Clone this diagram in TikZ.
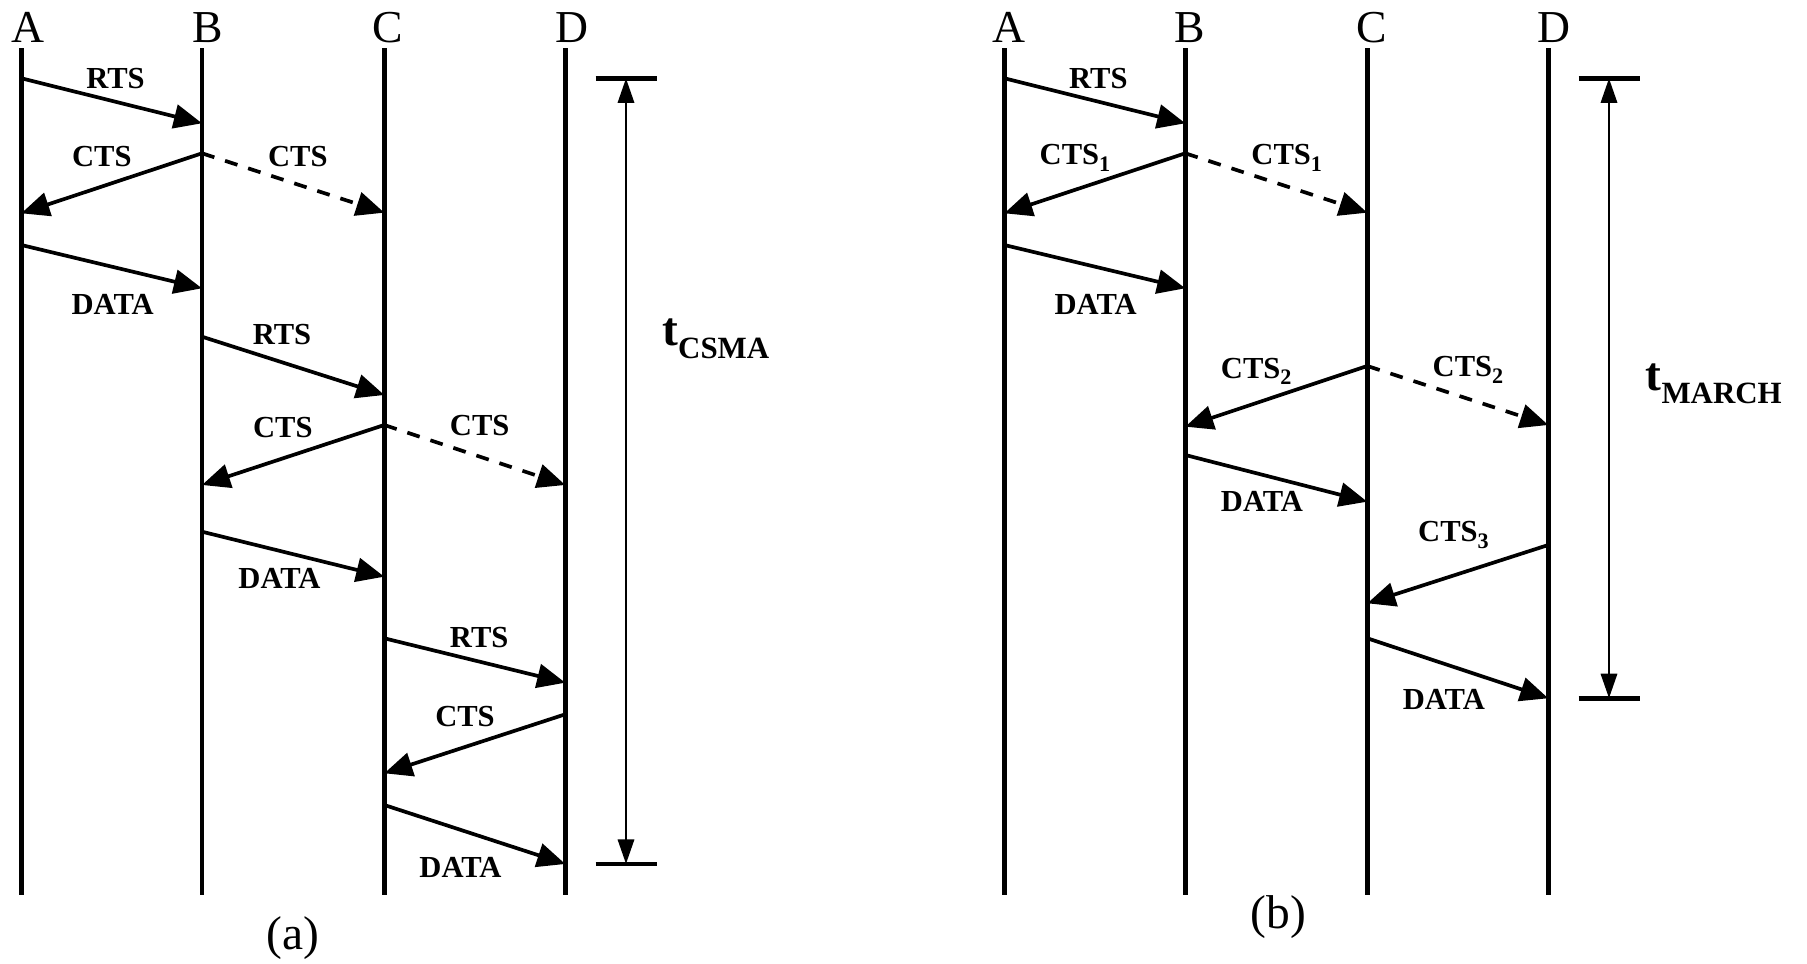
\documentclass[tikz,border=0pt]{standalone}
\usepackage{fontspec}
\setmainfont{Liberation Serif}
\usepackage{tikz}
\usetikzlibrary{arrows.meta}

\newcommand{\ctsno}[1]{CTS\raisebox{-1.9pt}{\fontsize{6.3}{7}\selectfont #1}}
\newcommand{\tspan}[1]{t\raisebox{-3.5pt}{\fontsize{8.8}{10}\selectfont #1}}

\begin{document}
\begin{tikzpicture}[x=0.1mm,y=-0.1mm,
  life/.style={line width=1.35pt},
  msg/.style={line width=1.05pt,-{Triangle[length=8pt,width=6.8pt]}},
  bmsg/.style={msg,dash pattern=on 3.7pt off 3.2pt},
  span/.style={line width=0.8pt,{Triangle[length=7pt,width=4.6pt]}-{Triangle[length=7pt,width=4.6pt]}},
  bar/.style={line width=1.35pt},
  head/.style={font=\fontsize{13}{15}\selectfont,inner sep=0pt,anchor=base},
  lbl/.style={font=\fontsize{8.7}{10}\selectfont\bfseries,inner sep=0pt,anchor=base},
  tlbl/.style={font=\fontsize{13.5}{15}\selectfont\bfseries,inner sep=0pt,anchor=base west}]

  \useasboundingbox (0,0) rectangle (1807,964);

  % --- (a) CSMA ---
  \node[head] (aA) at (27.5,42.7) {A}; \node[head] (aB) at (207.3,42.7) {B};
    \node[head] (aC) at (388,42.7) {C}; \node[head] (aD) at (571.7,42.7) {D};
  \draw[life] (21.3,48.3) -- (21.3,895);
  \draw[life] (202,48.3) -- (202,895);
  \draw[life] (384.3,48.3) -- (384.3,895);
  \draw[life] (565.3,48.3) -- (565.3,895);

  % message end points
  \coordinate (a1s) at (21.3,78.3);   \coordinate (a1e) at (202,123.3);
  \coordinate (a2s) at (202,153.3);   \coordinate (a2e) at (21.3,213.3);
  \coordinate (a3e) at (384.3,212.7);
  \coordinate (a4s) at (21.3,245);    \coordinate (a4e) at (202,288.3);
  \coordinate (a5s) at (202,336.7);   \coordinate (a5e) at (384.3,395);
  \coordinate (a6s) at (384.3,425);   \coordinate (a6e) at (202,485);
  \coordinate (a7e) at (565.3,485);
  \coordinate (a8s) at (202,531.7);   \coordinate (a8e) at (384.3,576.7);
  \coordinate (a9s) at (384.3,638.3); \coordinate (a9e) at (565.3,682.7);
  \coordinate (a10s) at (565.3,714.3); \coordinate (a10e) at (384.3,773.3);
  \coordinate (a11s) at (384.3,805);  \coordinate (a11e) at (565.3,864);

  \draw[msg] (a1s) -- (a1e);  \draw[msg] (a2s) -- (a2e);  \draw[bmsg] (a2s) -- (a3e);
  \draw[msg] (a4s) -- (a4e);  \draw[msg] (a5s) -- (a5e);  \draw[msg] (a6s) -- (a6e);
  \draw[bmsg] (a6s) -- (a7e); \draw[msg] (a8s) -- (a8e);  \draw[msg] (a9s) -- (a9e);
  \draw[msg] (a10s) -- (a10e); \draw[msg] (a11s) -- (a11e);

  \node[lbl] (aRts1) at (115.5,88.3) {RTS};
  \node[lbl] (aCts1) at (101.8,166.7) {CTS}; \node[lbl] (aCts1d) at (297.8,166.7) {CTS};
  \node[lbl] (aData1) at (112.7,315) {DATA};
  \node[lbl] (aRts2) at (282,345) {RTS};
  \node[lbl] (aCts2) at (282.8,437.7) {CTS}; \node[lbl] (aCts2d) at (479.7,435.7) {CTS};
  \node[lbl] (aData2) at (279.5,588.3) {DATA};
  \node[lbl] (aRts3) at (479.2,647.3) {RTS};
  \node[lbl] (aCts3) at (465,726.7) {CTS};
  \node[lbl] (aData3) at (460.5,877.7) {DATA};

  % time span
  \coordinate (aT) at (626,78.3); \coordinate (aTb) at (626,864);
  \draw[bar] ([xshift=-3.05mm]aT) -- ([xshift=3.05mm]aT);
  \draw[bar] ([xshift=-3.05mm]aTb) -- ([xshift=3.05mm]aTb);
  \draw[span] (aT) -- (aTb);
  \node[tlbl] (aTime) at (661.7,346) {\tspan{CSMA}};
  \node[head,anchor=center,font=\fontsize{13.5}{15}\selectfont] (aCap) at (293.3,938) {(a)};

  % --- (b) MARCH ---
  \node[head] (bA) at (1009.2,42.7) {A}; \node[head] (bB) at (1189.5,42.7) {B};
    \node[head] (bC) at (1371.7,42.7) {C}; \node[head] (bD) at (1554.2,42.7) {D};
  \draw[life] (1004.3,48.3) -- (1004.3,895);
  \draw[life] (1185.3,48.3) -- (1185.3,895);
  \draw[life] (1367.3,48.3) -- (1367.3,895);
  \draw[life] (1548.3,48.3) -- (1548.3,895);

  % message end points
  \coordinate (b1s) at (1004.3,78.3);  \coordinate (b1e) at (1185.3,123.3);
  \coordinate (b2s) at (1185.3,153.3); \coordinate (b2e) at (1004.3,213.3);
  \coordinate (b3e) at (1367.3,212.7);
  \coordinate (b4s) at (1004.3,245);   \coordinate (b4e) at (1185.3,288.3);
  \coordinate (b5s) at (1367.3,366);   \coordinate (b5e) at (1185.3,426.7);
  \coordinate (b6e) at (1548.3,425);
  \coordinate (b7s) at (1185.3,455);   \coordinate (b7e) at (1367.3,501.7);
  \coordinate (b8s) at (1548.3,545);   \coordinate (b8e) at (1367.3,603.3);
  \coordinate (b9s) at (1367.3,638.3); \coordinate (b9e) at (1548.3,698.3);

  \draw[msg] (b1s) -- (b1e);  \draw[msg] (b2s) -- (b2e);  \draw[bmsg] (b2s) -- (b3e);
  \draw[msg] (b4s) -- (b4e);  \draw[msg] (b5s) -- (b5e);  \draw[bmsg] (b5s) -- (b6e);
  \draw[msg] (b7s) -- (b7e);  \draw[msg] (b8s) -- (b8e);  \draw[msg] (b9s) -- (b9e);

  \node[lbl] (bRts1) at (1098.3,88.3) {RTS};
  \node[lbl] (bCts1) at (1075,165) {\ctsno{1}}; \node[lbl] (bCts1d) at (1286.7,165) {\ctsno{1}};
  \node[lbl] (bData1) at (1095.7,315) {DATA};
  \node[lbl] (bCts2) at (1256.2,378.3) {\ctsno{2}}; \node[lbl] (bCts2d) at (1468,376.7) {\ctsno{2}};
  \node[lbl] (bData2) at (1262,511.7) {DATA};
  \node[lbl] (bCts3) at (1453.5,541.7) {\ctsno{3}};
  \node[lbl] (bData3) at (1443.8,710) {DATA};

  % time span
  \coordinate (bT) at (1609,78.3); \coordinate (bTb) at (1609,698.3);
  \draw[bar] ([xshift=-3.05mm]bT) -- ([xshift=3.05mm]bT);
  \draw[bar] ([xshift=-3.05mm]bTb) -- ([xshift=3.05mm]bTb);
  \draw[span] (bT) -- (bTb);
  \node[tlbl] (bTime) at (1645,391) {\tspan{MARCH}};
  \node[head,anchor=center,font=\fontsize{13.5}{15}\selectfont] (bCap) at (1278.3,917.3) {(b)};
\end{tikzpicture}
\end{document}
